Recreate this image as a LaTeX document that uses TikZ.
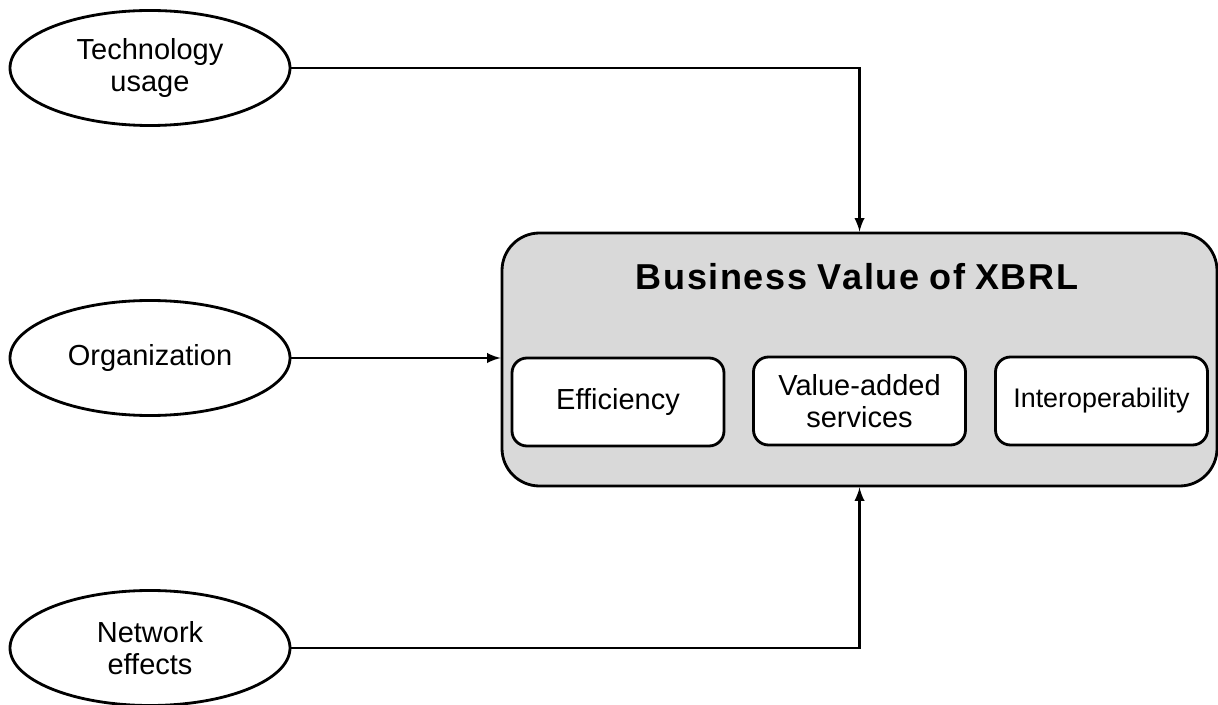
\documentclass[tikz,border=0pt]{standalone}
\usepackage{fontspec}
\setmainfont{Liberation Sans}
\usetikzlibrary{shapes.geometric}
\begin{document}
\begin{tikzpicture}[>=latex, line width=1.6pt,
  factor/.style={draw, ellipse, minimum width=5.6cm, minimum height=2.3cm,
    align=center, font=\fontsize{16.5}{18.5}\selectfont},
  valuebox/.style={draw, fill=gray!30, rounded corners=0.75cm,
    minimum width=14.3cm, minimum height=5.06cm},
  part/.style={draw, fill=white, rounded corners=0.3cm, minimum width=4.24cm,
    minimum height=1.76cm, align=center, font=\fontsize{16.5}{18.5}\selectfont}]
\useasboundingbox (0,0) rectangle (24.36,14.08);
% factors on the left
\node[factor] (tech) at (3.0,12.72) {Technology\\usage};
\node[factor] (org) at (3.0,6.92) {Organization};
\node[factor] (net) at (3.0,1.12) {Network\\effects};
% the value box and its parts
\node[valuebox] (bv) at (17.19,6.89) {};
\node[font=\bfseries\fontsize{20.5}{24}\selectfont] (title) at (17.14,8.55)
  {B\kern.9pt u\kern.9pt s\kern.9pt i\kern.9pt n\kern.9pt e\kern.9pt s\kern.9pt s
   V\kern.9pt a\kern.9pt l\kern.9pt u\kern.9pt e o\kern.9pt f X\kern.9pt B\kern.9pt R\kern.9pt L};
\node[part] (eff) at (12.36,6.04) {Efficiency};
\node[part] (vas) at (17.19,6.06) {Value-added\\services};
\node[part, font=\fontsize{15.3}{18}\selectfont] (iop) at (22.03,6.06) {Interoperability};
% connectors
\draw[->] (tech.east) -| (bv.north);
\draw[->] (org.east) -- (org.east -| bv.west);
\draw[->] (net.east) -| (bv.south);
\end{tikzpicture}
\end{document}
